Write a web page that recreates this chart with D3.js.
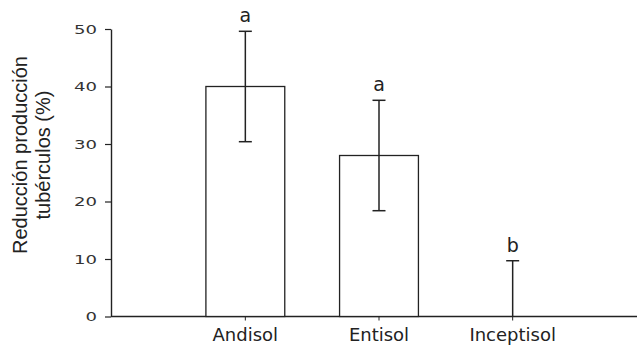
<!DOCTYPE html>
<html>
<head>
<meta charset="utf-8">
<script src="https://cdn.jsdelivr.net/npm/d3@7"></script>
<style>
  body { margin: 0; background: #fff; }
</style>
</head>
<body>
<div id="chart"></div>
<script>
// soil types and tuber yield reduction (%), with error and significance letter
const soils = ["Andisol", "Entisol", "Inceptisol"];
const reduction = [40, 28, 0];
const errors = [9.6, 9.6, 9.7];
const letters = ["a", "a", "b"];
const yTicks = [0, 10, 20, 30, 40, 50];

const width = 637, height = 350;
const ink = "#222";

const svg = d3.select("#chart")
  .append("svg")
  .attr("width", width)
  .attr("height", height);

const x = d3.scaleBand()
  .domain(soils)
  .range([111, 647])
  .paddingInner(0.41)
  .paddingOuter(0.71);

const y = d3.scaleLinear()
  .domain([0, 50])
  .range([316.5, 29]);

// y axis
const yAxis = svg.append("g")
  .attr("transform", "translate(111,0)")
  .call(d3.axisLeft(y).tickValues(yTicks).tickSize(6).tickPadding(8).tickSizeOuter(0));
yAxis.select(".domain").attr("stroke", ink).attr("stroke-width", 1.4);
yAxis.selectAll(".tick line").attr("stroke", ink).attr("stroke-width", 1.2);
// the original tick digits are wide, so stretch them a bit
yAxis.selectAll(".tick text")
  .attr("fill", "#333")
  .attr("textLength", d => String(d).length * 11.5)
  .attr("lengthAdjust", "spacingAndGlyphs")
  .style("font-family", "'DejaVu Sans', sans-serif")
  .style("font-size", "13px");

// x axis line across to the right edge
svg.append("line")
  .attr("x1", 111).attr("x2", width)
  .attr("y1", y(0)).attr("y2", y(0))
  .attr("stroke", ink).attr("stroke-width", 1.4);

svg.append("g")
  .selectAll("line")
  .data(soils)
  .join("line")
    .attr("x1", d => x(d) + x.bandwidth() / 2)
    .attr("x2", d => x(d) + x.bandwidth() / 2)
    .attr("y1", y(0))
    .attr("y2", y(0) + 4)
    .attr("stroke", ink);

svg.append("g")
  .selectAll("text")
  .data(soils)
  .join("text")
    .attr("x", d => x(d) + x.bandwidth() / 2)
    .attr("y", 341)
    .attr("text-anchor", "middle")
    .attr("fill", ink)
    .style("font-family", "'DejaVu Sans', sans-serif")
    .style("font-size", "18px")
    .text(d => d);

// bars
svg.append("g")
  .selectAll("rect")
  .data(soils)
  .join("rect")
    .attr("x", d => x(d))
    .attr("width", x.bandwidth())
    .attr("y", (d, i) => y(reduction[i]))
    .attr("height", (d, i) => y(0) - y(reduction[i]))
    .attr("fill", "#fff")
    .attr("stroke", ink)
    .attr("stroke-width", 1.3);

// error bars
const err = svg.append("g")
  .selectAll("g")
  .data(soils)
  .join("g")
    .attr("transform", d => `translate(${x(d) + x.bandwidth() / 2},0)`);

const lo = i => y(Math.max(0, reduction[i] - errors[i]));
const hi = i => y(reduction[i] + errors[i]);

err.append("line")
  .attr("y1", (d, i) => lo(i))
  .attr("y2", (d, i) => hi(i))
  .attr("stroke", ink).attr("stroke-width", 1.5);

err.append("line")
  .attr("x1", -6.5).attr("x2", 6.5)
  .attr("y1", (d, i) => hi(i))
  .attr("y2", (d, i) => hi(i))
  .attr("stroke", ink).attr("stroke-width", 1.5);

err.filter((d, i) => reduction[i] - errors[i] > 0)
  .append("line")
  .attr("x1", -6.5).attr("x2", 6.5)
  .attr("y1", d => lo(soils.indexOf(d)))
  .attr("y2", d => lo(soils.indexOf(d)))
  .attr("stroke", ink).attr("stroke-width", 1.5);

err.append("text")
  .attr("y", (d, i) => hi(i) - 9)
  .attr("text-anchor", "middle")
  .attr("fill", ink)
  .style("font-family", "'DejaVu Sans', sans-serif")
  .style("font-size", "19px")
  .text((d, i) => letters[i]);

// y title
const title = svg.append("text")
  .attr("transform", "translate(0,155) rotate(-90)")
  .attr("text-anchor", "middle")
  .attr("fill", ink)
  .style("font-family", "'Liberation Sans', Arial, sans-serif")
  .style("font-size", "20px");
title.append("tspan").attr("x", 0).attr("y", 27).text("Reducción producción");
title.append("tspan").attr("x", 0).attr("y", 50).text("tubérculos (%)");
</script>
</body>
</html>
